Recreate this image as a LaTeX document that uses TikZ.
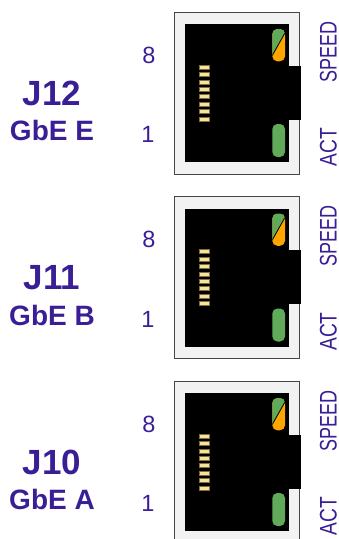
\documentclass[tikz,border=0pt]{standalone}
\usepackage{fontspec}
\setmainfont{Liberation Sans}
\newfontfamily\speedfont[FakeStretch=0.75]{Liberation Sans}
\newfontfamily\actfont[FakeStretch=0.8]{Liberation Sans}
\definecolor{lbl}{RGB}{58,30,150}
\definecolor{framefill}{RGB}{242,242,242}
\definecolor{frameedge}{RGB}{70,70,70}
\definecolor{ledgreen}{RGB}{96,170,90}
\definecolor{ledorange}{RGB}{255,165,0}
\definecolor{pinfill}{RGB}{247,227,160}
\definecolor{pinedge}{RGB}{130,110,60}
\begin{document}
\begin{tikzpicture}[x=1pt,y=-1pt,
  jlabel/.style={anchor=base, inner sep=0, text=lbl, font=\bfseries\fontsize{35}{40}\selectfont},
  glabel/.style={anchor=base, inner sep=0, text=lbl, font=\bfseries\fontsize{28}{32}\selectfont},
  pinno/.style={anchor=base, inner sep=0, text=lbl, font=\fontsize{23.5}{26}\selectfont},
  ledlabel/.style={anchor=base, inner sep=0, rotate=90, text=lbl},
  pinbox/.style={fill=pinfill, draw=pinedge, line width=0.4pt},
  ledshape/.style={rounded corners=5pt}]
\useasboundingbox (0,0) rectangle (339,539);
\foreach \k/\J/\G in {0/J12/GbE E,1/J11/GbE B,2/J10/GbE A} {
  \pgfmathsetmacro\dy{184.5*\k}
  \begin{scope}[shift={(0,\dy)}]
    % housing
    \fill[framefill] (174.5,12) rectangle (299.5,174);
    \draw[frameedge, line width=0.9pt] (174.5,12) rectangle (299.5,174);
    \fill[black] (185,24) rectangle (289.3,162);
    \fill[black] (289,65.5) rectangle (300.5,119.5);
    % pins
    \foreach \i in {0,...,7}
      \path[pinbox] (199,{65+7.4*\i}) rectangle (209.5,{69+7.4*\i});
    % speed LED
    \begin{scope}
      \clip[ledshape] (272.3,29) rectangle (285,61.3);
      \fill[ledorange] (272,29) rectangle (285.5,61.5);
      \fill[ledgreen] (272,28.5) -- (285.5,28.5) -- (285.5,32) -- (272,56) -- cycle;
      \draw[black, line width=0.8pt] (272,56) -- (285.5,32);
    \end{scope}
    % act LED
    \fill[ledgreen, ledshape] (272.3,124) rectangle (285,157);
    % labels
    \node[jlabel] (J\k) at (52,105) {\J};
    \node[glabel] (G\k) at (52,140.5) {\G};
    \node[pinno] (eight\k) at (149,63.3) {8};
    \node[pinno] (one\k) at (148,142.7) {1};
    \node[ledlabel, font=\speedfont\fontsize{24}{26}\selectfont] (speed\k) at (336.5,51.7) {SPEED};
    \node[ledlabel, font=\actfont\fontsize{24}{26}\selectfont] (act\k) at (336.5,147) {ACT};
  \end{scope}
}
\end{tikzpicture}
\end{document}
